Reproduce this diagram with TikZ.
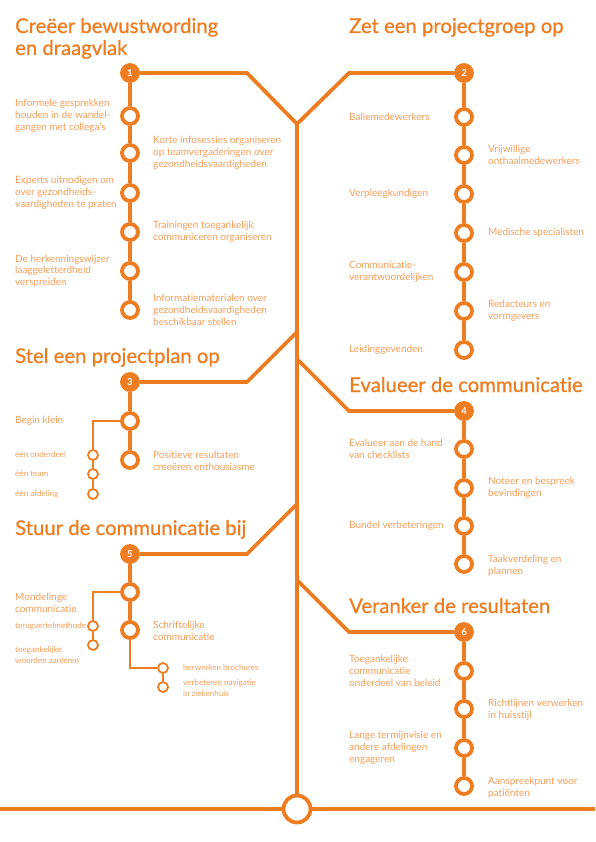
\documentclass[tikz,border=0pt]{standalone}
\usepackage{fontspec}
\setmainfont{Lato}[Ligatures={TeX,NoCommon}]
\newfontfamily\kopfont{Lato}[Ligatures={TeX,NoCommon}, FakeBold=0.8]
\usepackage{tikz}
\usetikzlibrary{positioning}
\definecolor{metro}{RGB}{238,125,34}
\definecolor{metrotekst}{RGB}{244,158,92}
\tikzset{
  lijn/.style={draw=metro, line width=3.8pt},
  dunlijn/.style={draw=metro, line width=1.8pt},
  halte/.style={circle, draw=metro, fill=white, line width=3.8pt, minimum size=16pt, inner sep=0pt},
  nrhalte/.style={circle, draw=metro, fill=metro, line width=3.8pt, minimum size=16pt, inner sep=0pt, text=white, font=\fontsize{9.5}{9.5}\selectfont\bfseries},
  subhalte/.style={circle, draw=metro, fill=white, line width=1.8pt, minimum size=10pt, inner sep=0pt},
  eindhalte/.style={circle, draw=metro, fill=white, line width=3.8pt, minimum size=27pt, inner sep=0pt},
  kop/.style={anchor=base west, inner sep=0pt, align=left, text=metro, font=\kopfont\fontsize{20.3}{22}\selectfont},
  tekst/.style={anchor=west, inner sep=0pt, align=left, text=metrotekst, font=\fontsize{10}{11.8}\selectfont},
  klein/.style={anchor=west, inner sep=0pt, align=left, text=metrotekst, font=\fontsize{8.1}{10.5}\selectfont}
}
\begin{document}
\begin{tikzpicture}[x=1pt, y=-1pt]
\useasboundingbox (0,0) rectangle (595,842);

\coordinate (top) at (297,124);
\node[eindhalte] (eind) at (297,809) {};
\coordinate (links) at (0,809);
\coordinate (rechts) at (595,809);
\draw[lijn] (top) -- (eind);
\draw[lijn] (links) -- (eind);
\draw[lijn] (eind) -- (rechts);

\node[kop] (kop1) at (15,55) {Creëer bewustwording\\en draagvlak};
\node[nrhalte] (s1) at (130,73) {1};
\node[halte] (a1) at (130,116) {};
\node[halte] (a2) at (130,153) {};
\node[halte] (a3) at (130,193) {};
\node[halte] (a4) at (130,232) {};
\node[halte] (a5) at (130,271) {};
\node[halte] (a6) at (130,310) {};
\coordinate (k1) at (247,73);
\draw[lijn] (s1) -- (k1) -- (top);
\draw[lijn] (s1) -- (a1) -- (a2) -- (a3) -- (a4) -- (a5) -- (a6);
\node[tekst] (ta1) at (15,0 |- a1) {Informele gesprekken\\houden in de wandel-\\gangen met collega's};
\node[tekst] (ta2) at (153,0 |- a2) {Korte infosessies organiseren\\op teamvergaderingen over\\gezondheidsvaardigheden};
\node[tekst] (ta3) at (15,0 |- a3) {Experts uitnodigen om\\over gezondheids-\\vaardigheden te praten};
\node[tekst] (ta4) at (153,0 |- a4) {Trainingen toegankelijk\\communiceren organiseren};
\node[tekst] (ta5) at (15,0 |- a5) {De herkenningswijzer\\laaggeletterdheid\\verspreiden};
\node[tekst] (ta6) at (153,0 |- a6) {Informatiematerialen over\\gezondheidsvaardigheden\\beschikbaar stellen};

\node[kop] (kop2) at (349,33) {Zet een projectgroep op};
\node[nrhalte] (s2) at (464,73) {2};
\node[halte] (b1) at (464,117) {};
\node[halte] (b2) at (464,155) {};
\node[halte] (b3) at (464,194) {};
\node[halte] (b4) at (464,233) {};
\node[halte] (b5) at (464,272) {};
\node[halte] (b6) at (464,311) {};
\node[halte] (b7) at (464,350) {};
\coordinate (k2) at (349,73);
\draw[lijn] (s2) -- (k2) -- (top);
\draw[lijn] (s2) -- (b1) -- (b2) -- (b3) -- (b4) -- (b5) -- (b6) -- (b7);
\node[tekst] (tb1) at (349,0 |- b1) {Baliemedewerkers};
\node[tekst] (tb2) at (488,0 |- b2) {Vrijwillige\\onthaalmedewerkers};
\node[tekst] (tb3) at (349,0 |- b3) {Verpleegkundigen};
\node[tekst] (tb4) at (488,0 |- b4) {Medische specialisten};
\node[tekst] (tb5) at (349,0 |- b5) {Communicatie-\\verantwoordelijken};
\node[tekst] (tb6) at (488,0 |- b6) {Redacteurs en\\vormgevers};
\node[tekst] (tb7) at (349,0 |- b7) {Leidinggevenden};

\node[kop] (kop3) at (15,363) {Stel een projectplan op};
\node[nrhalte] (s3) at (130,382) {3};
\node[halte] (c1) at (130,421) {};
\node[halte] (c2) at (130,460) {};
\node[subhalte] (u1) at (93,455) {};
\node[subhalte] (u2) at (93,474) {};
\node[subhalte] (u3) at (93,494) {};
\coordinate (k3) at (247,382);
\coordinate (t3) at (297,332);
\coordinate (h3) at (93,421);
\draw[lijn] (s3) -- (k3) -- (t3);
\draw[lijn] (s3) -- (c1) -- (c2);
\draw[dunlijn] (c1) -- (h3) -- (u1) -- (u2) -- (u3);
\node[tekst] (tc1) at (15,0 |- c1) {Begin klein};
\node[tekst] (tc2) at (153,461) {Positieve resultaten\\creeëren enthousiasme};
\node[klein] (tu1) at (15,0 |- u1) {één onderdeel};
\node[klein] (tu2) at (15,0 |- u2) {één team};
\node[klein] (tu3) at (15,0 |- u3) {één afdeling};

\node[kop] (kop4) at (349,392) {Evalueer de communicatie};
\node[nrhalte] (s4) at (464,411) {4};
\node[halte] (d1) at (464,449) {};
\node[halte] (d2) at (464,488) {};
\node[halte] (d3) at (464,526) {};
\node[halte] (d4) at (464,564) {};
\coordinate (k4) at (349,411);
\coordinate (t4) at (297,359);
\draw[lijn] (s4) -- (k4) -- (t4);
\draw[lijn] (s4) -- (d1) -- (d2) -- (d3) -- (d4);
\node[tekst] (td1) at (349,0 |- d1) {Evalueer aan de hand\\van checklists};
\node[tekst] (td2) at (488,488) {Noteer en bespreek\\bevindingen};
\node[tekst] (td3) at (349,0 |- d3) {Bundel verbeteringen};
\node[tekst] (td4) at (488,566) {Taakverdeling en\\plannen};

\node[kop] (kop5) at (15,535) {Stuur de communicatie bij};
\node[nrhalte] (s5) at (130,554) {5};
\node[halte] (e1) at (130,592) {};
\node[halte] (e2) at (130,630) {};
\node[subhalte] (v1) at (93,626) {};
\node[subhalte] (v2) at (93,645) {};
\node[subhalte] (w1) at (163,668) {};
\node[subhalte] (w2) at (163,687) {};
\coordinate (k5) at (247,554);
\coordinate (t5) at (297,504);
\coordinate (h5) at (93,592);
\coordinate (g5) at (130,668);
\draw[lijn] (s5) -- (k5) -- (t5);
\draw[lijn] (s5) -- (e1) -- (e2);
\draw[dunlijn] (e1) -- (h5) -- (v1) -- (v2);
\draw[dunlijn] (e2) -- (g5) -- (w1) -- (w2);
\node[tekst] (te1) at (15,603) {Mondelinge\\communicatie};
\node[tekst] (te2) at (153,631) {Schriftelijke\\communicatie};
\node[klein] (tv1) at (15,0 |- v1) {terugvertelmethode};
\node[klein] (tv2) at (15,655) {toegankelijke\\woorden aanleren};
\node[klein] (tw1) at (183,0 |- w1) {herwerken brochures};
\node[klein] (tw2) at (183,688) {verbeteren navigatie\\in ziekenhuis};

\node[kop] (kop6) at (349,613) {Veranker de resultaten};
\node[nrhalte] (s6) at (464,632) {6};
\node[halte] (f1) at (464,671) {};
\node[halte] (f2) at (464,709) {};
\node[halte] (f3) at (464,748) {};
\node[halte] (f4) at (464,786) {};
\coordinate (k6) at (349,632);
\coordinate (t6) at (297,580);
\draw[lijn] (s6) -- (k6) -- (t6);
\draw[lijn] (s6) -- (f1) -- (f2) -- (f3) -- (f4);
\node[tekst] (tf1) at (349,0 |- f1) {Toegankelijke\\communicatie\\onderdeel van beleid};
\node[tekst] (tf2) at (488,710) {Richtlijnen verwerken\\in huisstijl};
\node[tekst] (tf3) at (349,0 |- f3) {Lange termijnvisie en\\andere afdelingen\\engageren};
\node[tekst] (tf4) at (488,788) {Aanspreekpunt voor\\patiënten};
\end{tikzpicture}
\end{document}
